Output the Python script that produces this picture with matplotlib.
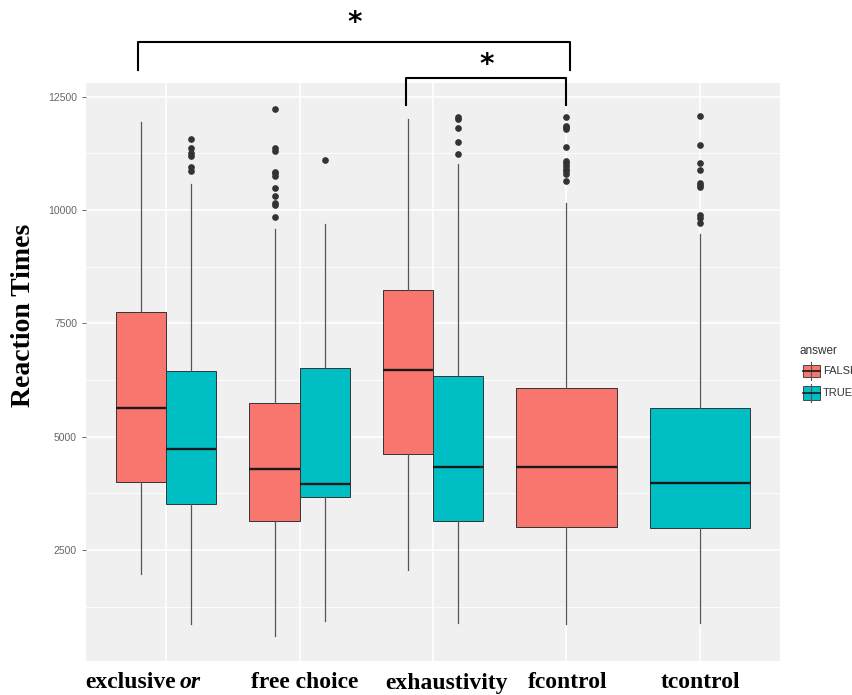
import matplotlib
matplotlib.use("Agg")
import matplotlib.pyplot as plt
from matplotlib.patches import Rectangle
from matplotlib.lines import Line2D

# Reaction time summaries per condition and answer
categories = ['exclusive or', 'free choice', 'exhaustivity', 'fcontrol', 'tcontrol']
groups = ['exclusive or', 'exclusive or', 'free choice', 'free choice',
          'exhaustivity', 'exhaustivity', 'fcontrol', 'tcontrol']
answers = ['FALSE', 'TRUE', 'FALSE', 'TRUE', 'FALSE', 'TRUE', 'FALSE', 'TRUE']
q1 = [4006, 3507, 3139, 3675, 4617, 3139, 3007, 2992]
medians = [5625, 4721, 4286, 3962, 6470, 4330, 4330, 3984]
q3 = [7750, 6448, 5749, 6521, 8242, 6338, 6066, 5632]
whisker_low = [1980, 860, 602, 933, 2067, 882, 860, 882]
whisker_high = [11948, 10565, 9580, 9691, 12014, 11015, 10148, 9471]
outliers = [
    [],
    [11573, 11361, 11250, 11191, 10942, 10860],
    [12221, 11361, 11308, 10845, 10809, 10750, 10492, 10302, 10148, 10110, 9846],
    [11096],
    [],
    [12045, 12001, 11802, 11507, 11235],
    [12051, 11852, 11822, 11787, 11397, 11087, 11030, 10971, 10911, 10854, 10794, 10646],
    [12073, 11427, 11037, 10882, 10602, 10558, 10514, 9883, 9830, 9706],
]
yticks = [2500, 5000, 7500, 10000, 12500]

colors = {'FALSE': '#F8766D', 'TRUE': '#00BFC4'}

W, H = 853, 695
fig = plt.figure(figsize=(W / 100, H / 100), dpi=100)
fig.patch.set_facecolor('white')
ax = fig.add_axes([86 / W, 1 - 661 / H, (780 - 86) / W, (661 - 83) / H])
ax.set_facecolor('#F0F0F0')

# dodge boxes when a condition has both answers
n_per_cat = {c: groups.count(c) for c in categories}
stats, positions, widths, fills = [], [], [], []
for i, g in enumerate(groups):
    ci = categories.index(g)
    if n_per_cat[g] == 2:
        pos = ci - 0.1875 if answers[i] == 'FALSE' else ci + 0.1875
        w = 0.375
    else:
        pos = ci
        w = 0.75
    stats.append(dict(med=medians[i], q1=q1[i], q3=q3[i],
                      whislo=whisker_low[i], whishi=whisker_high[i],
                      fliers=outliers[i]))
    positions.append(pos)
    widths.append(w)
    fills.append(colors[answers[i]])

bp = ax.bxp(stats, positions=positions, widths=widths, patch_artist=True,
            showcaps=False, manage_ticks=False,
            boxprops=dict(edgecolor='#333333', linewidth=0.7),
            medianprops=dict(color='#1a1a1a', linewidth=1.7, solid_capstyle='butt'),
            whiskerprops=dict(color='#555555', linewidth=0.9),
            flierprops=dict(marker='o', markersize=3.8, markerfacecolor='#333333',
                            markeredgecolor='#333333'))
for patch, c in zip(bp['boxes'], fills):
    patch.set_facecolor(c)
for p in bp['boxes'] + bp['medians'] + bp['whiskers'] + bp['fliers']:
    p.set_zorder(3)

ax.set_xlim(-0.6, 4.6)
ax.set_ylim(50, 12800)
ax.set_yticks(yticks)
ax.set_yticklabels([str(t) for t in yticks], fontsize=7.5, color='#666666',
                   family='Liberation Sans')
ax.set_yticks([1250, 3750, 6250, 8750, 11250], minor=True)
ax.set_xticks(range(len(categories)))
ax.set_xticklabels([])
ax.tick_params(axis='y', length=3, color='#666666', width=0.7)
ax.tick_params(axis='y', which='minor', length=0)
ax.tick_params(axis='x', length=0)
ax.grid(True, which='major', color='white', linewidth=1.2)
ax.grid(True, which='minor', axis='y', color='white', linewidth=0.6)
ax.set_axisbelow(True)
for s in ax.spines.values():
    s.set_visible(False)

# condition labels below the panel
serif = 'Liberation Serif'
fig.text(85 / W, 1 - 683 / H, 'exclusive', fontsize=17, fontweight='bold',
         family=serif, ha='left', va='center')
fig.text(180 / W, 1 - 683 / H, 'or', fontsize=17, fontweight='bold',
         fontstyle='italic', family=serif, ha='left', va='center')
label_x = [None, 305, 447, 568, 700]
for name, x in zip(categories[1:], label_x[1:]):
    fig.text(x / W, 1 - 683 / H, name, fontsize=17, fontweight='bold',
             family=serif, ha='center', va='center')

fig.text(24 / W, 1 - 315 / H, 'Reaction Times', fontsize=20, fontweight='bold',
         family=serif, rotation=90, ha='center', va='center')

# significance brackets
def bracket(x0, x1, y_top, y_leg, star_y):
    ax.add_line(Line2D([x0, x0, x1, x1], [y_leg, y_top, y_top, y_leg],
                       color='black', linewidth=1.5, clip_on=False,
                       solid_joinstyle='round'))
    ax.text((x0 + x1) / 2, star_y, '*', fontsize=20, fontweight='bold',
            ha='center', va='center', family='DejaVu Sans', clip_on=False)

bracket(-0.21, 3.03, 13707, 13089, 14120)
bracket(1.80, 3.00, 12913, 12318, 13200)

# legend
fig.text(800 / W, 1 - 351 / H, 'answer', fontsize=8.5, color='#333333',
         family='Liberation Sans', ha='left', va='center')
for k, (lab, yk) in enumerate([('FALSE', 371), ('TRUE', 393)]):
    x0, x1 = 803 / W, 820 / W
    yb, yt = 1 - (yk + 6.5) / H, 1 - (yk - 6.5) / H
    fig.add_artist(Line2D([(x0 + x1) / 2] * 2, [1 - (yk + 9) / H, 1 - (yk - 9) / H],
                          color='#555555', linewidth=0.8))
    fig.add_artist(Rectangle((x0, yb), x1 - x0, yt - yb, facecolor=colors[lab],
                             edgecolor='#333333', linewidth=0.6))
    fig.add_artist(Line2D([x0, x1], [1 - yk / H] * 2, color='#1a1a1a', linewidth=1.2))
    fig.text(823 / W, 1 - yk / H, lab, fontsize=8, color='#333333',
             family='Liberation Sans', ha='left', va='center')

fig.savefig('out.png', dpi=100)
